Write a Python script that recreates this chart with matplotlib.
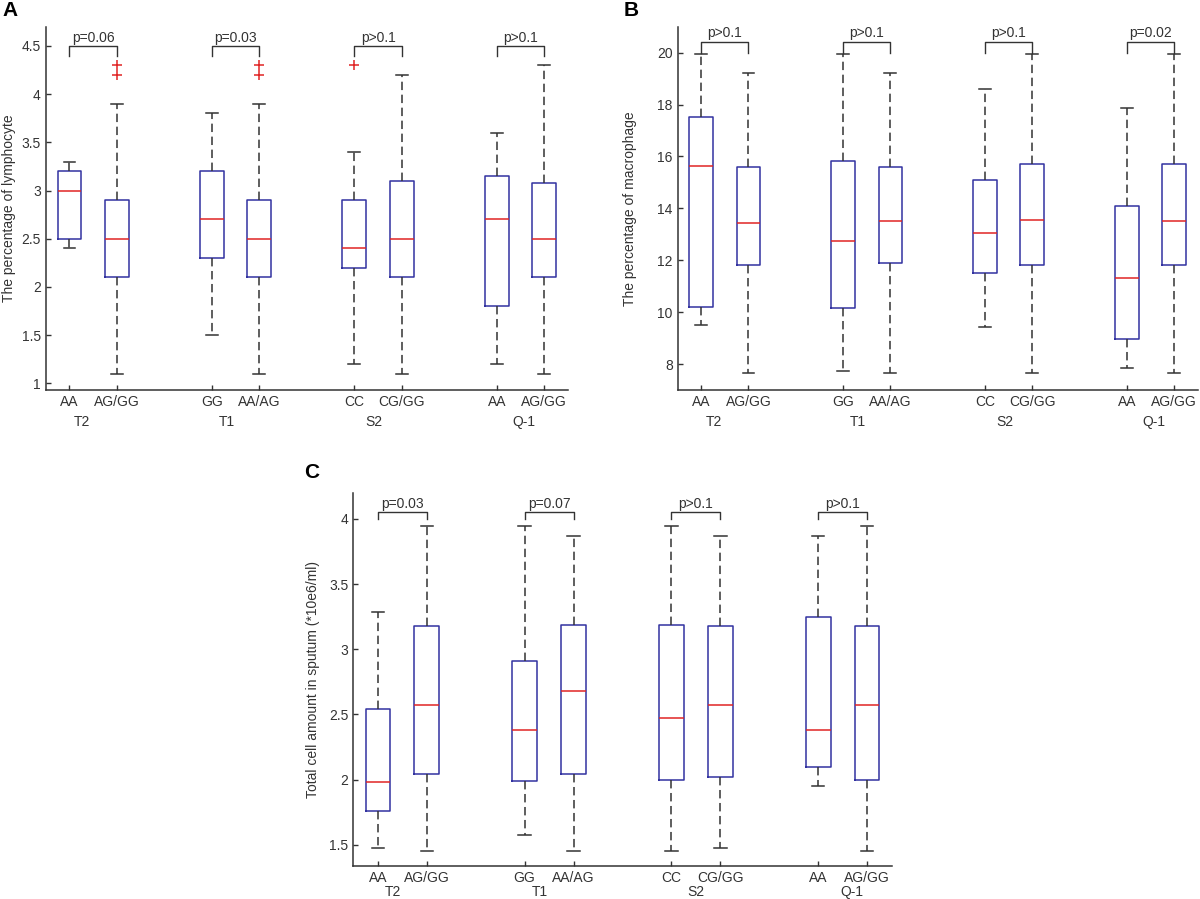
import matplotlib
matplotlib.use('Agg')
from matplotlib import pyplot as plt
from matplotlib.ticker import FuncFormatter

plt.rcParams['font.family'] = ['Liberation Sans', 'DejaVu Sans']

genotypes = ['AA', 'AG/GG', 'GG', 'AA/AG', 'CC', 'CG/GG', 'AA', 'AG/GG']
snps = ['T2', 'T1', 'S2', 'Q-1']

# A: percentage of lymphocyte
lym_low = [2.4, 1.1, 1.5, 1.1, 1.2, 1.1, 1.2, 1.1]
lym_q1 = [2.5, 2.1, 2.3, 2.1, 2.2, 2.1, 1.8, 2.1]
lym_med = [3.0, 2.5, 2.7, 2.5, 2.4, 2.5, 2.7, 2.5]
lym_q3 = [3.2, 2.9, 3.2, 2.9, 2.9, 3.1, 3.15, 3.08]
lym_high = [3.3, 3.9, 3.8, 3.9, 3.4, 4.2, 3.6, 4.3]
lym_out = [[], [4.2, 4.3], [], [4.2, 4.3], [4.3], [], [], []]
lym_p = ['p=0.06', 'p=0.03', 'p>0.1', 'p>0.1']

# B: percentage of macrophage
mac_low = [9.5, 7.64, 7.73, 7.64, 9.43, 7.64, 7.85, 7.64]
mac_q1 = [10.2, 11.82, 10.16, 11.89, 11.49, 11.82, 8.98, 11.82]
mac_med = [15.65, 13.45, 12.73, 13.5, 13.04, 13.56, 11.3, 13.5]
mac_q3 = [17.52, 15.61, 15.81, 15.61, 15.11, 15.69, 14.1, 15.69]
mac_high = [19.94, 19.22, 19.94, 19.22, 18.61, 19.94, 17.88, 19.94]
mac_out = [[], [], [], [], [], [], [], []]
mac_p = ['p>0.1', 'p>0.1', 'p>0.1', 'p=0.02']

# C: total cell amount in sputum
tot_low = [1.474, 1.456, 1.574, 1.456, 1.456, 1.474, 1.95, 1.456]
tot_q1 = [1.758, 2.047, 1.988, 2.047, 1.996, 2.024, 2.098, 1.996]
tot_med = [1.98, 2.569, 2.382, 2.678, 2.471, 2.569, 2.382, 2.569]
tot_q3 = [2.545, 3.18, 2.911, 3.185, 3.185, 3.177, 3.25, 3.177]
tot_high = [3.284, 3.946, 3.946, 3.87, 3.946, 3.87, 3.87, 3.946]
tot_out = [[], [], [], [], [], [], [], []]
tot_p = ['p=0.03', 'p=0.07', 'p>0.1', 'p>0.1']

positions = [1, 2, 4, 5, 7, 8, 10, 11]
BOX = '#3232a0'
GREY = '#333333'
FS = 10


def panel(ax, low, q1, med, q3, high, out, pvals, ylim, yticks, brk, drop,
          ylabel, ylabel_x, group_x, group_y):
    stats = []
    for i in range(len(positions)):
        stats.append(dict(whislo=low[i], q1=q1[i], med=med[i], q3=q3[i],
                          whishi=high[i], fliers=out[i]))
    ax.bxp(stats, positions=positions, widths=0.5, capwidths=0.25,
           boxprops=dict(color=BOX, lw=1.1),
           medianprops=dict(color='#e02424', lw=1.1),
           whiskerprops=dict(color=GREY, lw=1.1, linestyle=(0, (5.5, 3))),
           capprops=dict(color=GREY, lw=1.1),
           flierprops=dict(marker='+', markeredgecolor='#e02424',
                           markersize=7, markeredgewidth=1.1))
    for k, p in enumerate(pvals):
        x1, x2 = positions[2 * k], positions[2 * k + 1]
        ax.plot([x1, x1, x2, x2], [brk - drop, brk, brk, brk - drop],
                color=GREY, lw=1)
        ax.annotate(p, ((x1 + x2) / 2, brk), xytext=(0, 1),
                    textcoords='offset points', ha='center', va='bottom',
                    fontsize=FS, color=GREY)
    for gx, name in zip(group_x, snps):
        ax.text(gx, group_y, name, transform=ax.get_xaxis_transform(),
                ha='center', va='center', fontsize=FS, color=GREY)
    ax.set_xlim(0.5, 11.5)
    ax.set_ylim(*ylim)
    ax.set_xticks(positions)
    ax.set_xticklabels(genotypes)
    ax.set_yticks(yticks)
    ax.yaxis.set_major_formatter(FuncFormatter(lambda v, _: '%g' % v))
    ax.tick_params(direction='in', length=3.5, width=1, colors=GREY,
                   labelsize=FS, pad=3.5)
    for s in ['top', 'right']:
        ax.spines[s].set_visible(False)
    for s in ['left', 'bottom']:
        ax.spines[s].set_color(GREY)
        ax.spines[s].set_linewidth(1.1)
    ax.set_ylabel(ylabel, fontsize=FS, color=GREY)
    ax.yaxis.set_label_coords(ylabel_x, 0.5)


fig = plt.figure(figsize=(12, 8.99), dpi=100)
axA = fig.add_axes([0.0381, 0.5662, 0.4352, 0.4041])
axB = fig.add_axes([0.5646, 0.5662, 0.4335, 0.4041])
axC = fig.add_axes([0.2944, 0.0370, 0.4487, 0.4149])

panel(axA, lym_low, lym_q1, lym_med, lym_q3, lym_high, lym_out, lym_p,
      (0.93, 4.7), [1, 1.5, 2, 2.5, 3, 3.5, 4, 4.5], 4.5, 0.1,
      'The percentage of lymphocyte', -0.057,
      [1.27, 4.32, 7.42, 10.58], -0.088)
panel(axB, mac_low, mac_q1, mac_med, mac_q3, mac_high, mac_out, mac_p,
      (7, 21), [8, 10, 12, 14, 16, 18, 20], 20.42, 0.42,
      'The percentage of macrophage', -0.078,
      [1.27, 4.32, 7.42, 10.58], -0.088)
panel(axC, tot_low, tot_q1, tot_med, tot_q3, tot_high, tot_out, tot_p,
      (1.34, 4.2), [1.5, 2, 2.5, 3, 3.5, 4], 4.05, 0.05,
      'Total cell amount in sputum (*10e6/ml)', -0.062,
      [1.31, 4.32, 7.5, 10.68], -0.0705)

fig.text(10 / 1200, 1 - 11 / 899, 'A', fontsize=15, fontweight='bold',
         ha='center', va='center')
fig.text(631 / 1200, 1 - 11 / 899, 'B', fontsize=15, fontweight='bold',
         ha='center', va='center')
fig.text(312 / 1200, 1 - 472 / 899, 'C', fontsize=15, fontweight='bold',
         ha='center', va='center')

fig.savefig('out.png', dpi=100)
